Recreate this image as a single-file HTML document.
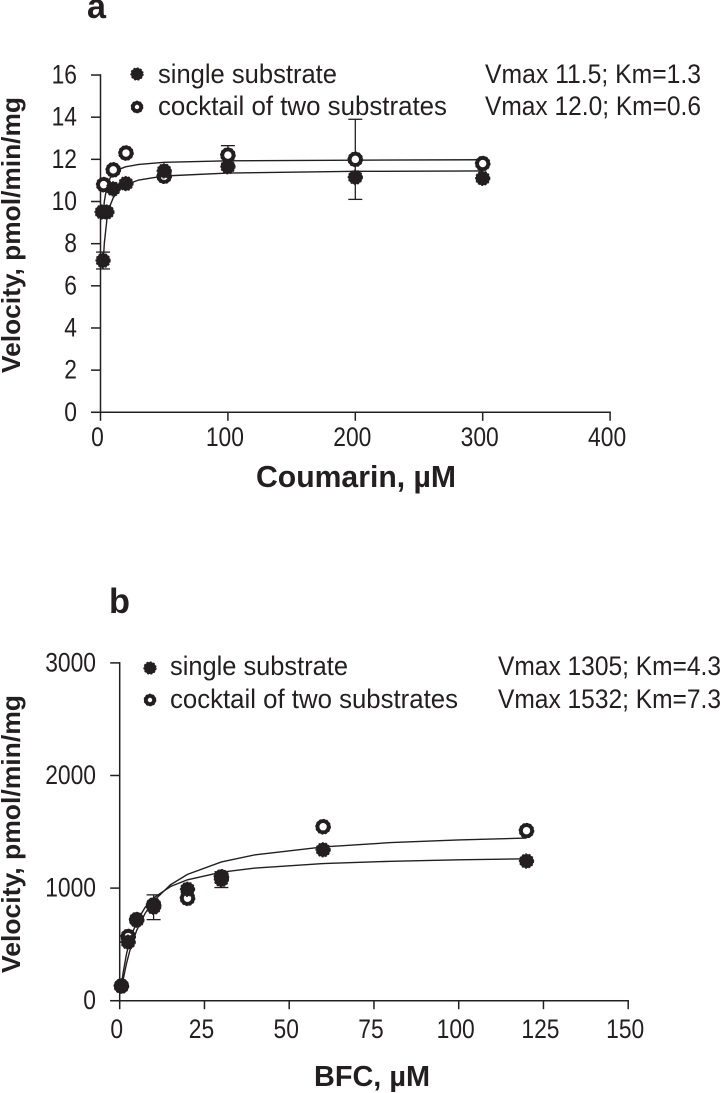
<!DOCTYPE html>
<html lang="en">
<head>
<meta charset="utf-8">
<title>Velocity charts</title>
<style>
html,body{margin:0;padding:0;background:#fff;}
svg{display:block;}
text{font-family:"Liberation Sans",Arial,sans-serif;fill:#231f20;}
.leg{font-size:26.5px;}
.big{font-weight:bold;}
</style>
</head>
<body>
<svg id="fig" width="721" height="1093" viewBox="0 0 721 1093" xmlns="http://www.w3.org/2000/svg">
  <text class="big" x="87" y="18" font-size="35" textLength="19" lengthAdjust="spacingAndGlyphs">a</text>
  <text class="big" x="109" y="613" font-size="35" textLength="21" lengthAdjust="spacingAndGlyphs">b</text>

  <text class="big" transform="translate(20,373) rotate(-90)" font-size="26" textLength="276" lengthAdjust="spacingAndGlyphs">Velocity, pmol/min/mg</text>
  <text class="big" x="256" y="487" font-size="31" textLength="200" lengthAdjust="spacingAndGlyphs">Coumarin, µM</text>
  <text class="big" transform="translate(20,973) rotate(-90)" font-size="26" textLength="278" lengthAdjust="spacingAndGlyphs">Velocity, pmol/min/mg</text>
  <text class="big" x="314" y="1086" font-size="29" textLength="116" lengthAdjust="spacingAndGlyphs">BFC, µM</text>

  <text class="leg" x="158" y="83" textLength="179" lengthAdjust="spacingAndGlyphs">single substrate</text>
  <text class="leg" x="158" y="115" textLength="289" lengthAdjust="spacingAndGlyphs">cocktail of two substrates</text>
  <text class="leg" x="485" y="83" textLength="216" lengthAdjust="spacingAndGlyphs">Vmax 11.5; Km=1.3</text>
  <text class="leg" x="485" y="115" textLength="216" lengthAdjust="spacingAndGlyphs">Vmax 12.0; Km=0.6</text>

  <text class="leg" x="170" y="675" textLength="178" lengthAdjust="spacingAndGlyphs">single substrate</text>
  <text class="leg" x="170" y="708" textLength="288" lengthAdjust="spacingAndGlyphs">cocktail of two substrates</text>
  <text class="leg" x="498" y="675" textLength="223" lengthAdjust="spacingAndGlyphs">Vmax 1305; Km=4.3</text>
  <text class="leg" x="498" y="708" textLength="223" lengthAdjust="spacingAndGlyphs">Vmax 1532; Km=7.3</text>
</svg>
<script>
// Panel a data (Coumarin)
var aXTicks = [0, 100, 200, 300, 400];
var aYTicks = [0, 2, 4, 6, 8, 10, 12, 14, 16];
var aSingleConc = [2, 1.25, 5, 10, 20, 50, 100, 200, 300];
var aSingleVel = [7.2, 9.5, 9.5, 10.6, 10.85, 11.45, 11.65, 11.15, 11.1];
var aSingleErr = [0.4, 0, 0, 0, 0, 0, 0, 0, 0];
var aCocktailConc = [2.5, 10, 20, 50, 100, 200, 300];
var aCocktailVel = [10.8, 11.5, 12.3, 11.2, 12.2, 12.0, 11.8];
var aCocktailErr = [0, 0, 0, 0, 0.45, 1.9, 0];
var aCurveConc = [2, 3, 5, 7.5, 10, 15, 20, 30, 50, 100, 200, 300];
var aCurveSingle = [6.97, 8.02, 9.13, 9.8, 10.18, 10.58, 10.8, 11.02, 11.21, 11.35, 11.43, 11.45];
var aCurveCocktail = [9.23, 10, 10.71, 11.11, 11.32, 11.54, 11.65, 11.76, 11.86, 11.93, 11.96, 11.98];

// Panel b data (BFC)
var bXTicks = [0, 25, 50, 75, 100, 125, 150];
var bYTicks = [0, 1000, 2000, 3000];
var bSingleConc = [0.5, 2.5, 5, 10, 20, 30, 60, 120];
var bSingleVel = [130, 520, 715, 830, 990, 1075, 1340, 1240];
var bSingleErr = [0, 0, 0, 110, 0, 70, 0, 0];
var bCocktailConc = [0.5, 2.5, 5, 10, 20, 30, 60, 120];
var bCocktailVel = [130, 570, 720, 850, 910, 1100, 1545, 1510];
var bCocktailErr = [0, 0, 0, 0, 0, 0, 0, 0];
var bCurveConc = [0.5, 1, 2, 3, 5, 7.5, 10, 15, 20, 30, 40, 60, 80, 100, 120];
var bCurveSingle = [136, 246, 414, 537, 702, 829, 913, 1014, 1074, 1141, 1178, 1218, 1238, 1251, 1260];
var bCurveCocktail = [98, 184, 329, 446, 624, 776, 886, 1030, 1122, 1232, 1296, 1366, 1404, 1428, 1444];

var NS = 'http://www.w3.org/2000/svg';
var INK = '#231f20';
var fig = document.getElementById('fig');

function node(tag, attrs, parent) {
  var el = document.createElementNS(NS, tag);
  for (var k in attrs) el.setAttribute(k, attrs[k]);
  parent.appendChild(el);
  return el;
}

function seg(parent, x1, y1, x2, y2, w) {
  return node('line', {x1: x1, y1: y1, x2: x2, y2: y2, stroke: INK, 'stroke-width': w}, parent);
}

function drawFilled(parent, cx, cy, r) {
  node('circle', {cx: cx, cy: cy, r: r, fill: INK}, parent);
  node('circle', {cx: cx, cy: cy, r: r + 0.2, fill: 'none', stroke: INK, 'stroke-width': 0.9, 'stroke-dasharray': '2 1.6'}, parent);
}

function drawOpen(parent, cx, cy, r) {
  node('circle', {cx: cx, cy: cy, r: r - 1.4, fill: '#fff', stroke: INK, 'stroke-width': 3.8}, parent);
  node('circle', {cx: cx, cy: cy, r: r + 0.4, fill: 'none', stroke: INK, 'stroke-width': 0.9, 'stroke-dasharray': '2 1.8'}, parent);
}

function drawAxes(prefix, g, sx, sy, xTicks, yTicks, xBase, yRight, xLabelDx) {
  var x0 = sx(xTicks[0]), xEnd = sx(xTicks[xTicks.length - 1]);
  var y0 = sy(yTicks[0]), yEnd = sy(yTicks[yTicks.length - 1]);
  var xAxis = seg(g, x0 - 9.5, y0, xEnd + 0.75, y0, 1.5);
  
  
  var yAxis = seg(g, x0, yEnd - 0.75, x0, y0, 1.5);
  
  
  xTicks.forEach(function (t) {
    var tick = seg(g, sx(t), y0, sx(t), y0 + 8.5, 1.5);
    
    
    var s = String(t);
    var lab = node('text', {x: sx(t) + xLabelDx, y: xBase, 'font-size': 26.5, 'text-anchor': 'middle', textLength: s.length * 12.7, lengthAdjust: 'spacingAndGlyphs'}, g);
    lab.textContent = s;
    
    
  });
  yTicks.forEach(function (t) {
    var tick = seg(g, x0 - 9.5, sy(t), x0, sy(t), 1.5);
    
    
    var s = String(t);
    var lab = node('text', {x: yRight, y: sy(t) + 8.5, 'font-size': 26.5, 'text-anchor': 'end', textLength: s.length * 12.7, lengthAdjust: 'spacingAndGlyphs'}, g);
    lab.textContent = s;
    
    
  });
}

function drawCurve(name, g, sx, sy, xs, ys) {
  var pts = xs.map(function (x, i) { return sx(x).toFixed(2) + ',' + sy(ys[i]).toFixed(2); }).join(' ');
  var line = node('polyline', {points: pts, fill: 'none', stroke: INK, 'stroke-width': 1.4}, g);
  
  
}

function drawErrors(name, g, sx, sy, xs, ys, es) {
  xs.forEach(function (x, i) {
    if (!es[i]) return;
    var e = node('g', {}, g);
    
    
    var px = sx(x), hi = sy(ys[i] + es[i]), lo = sy(ys[i] - es[i]);
    seg(e, px, hi, px, lo, 1.3);
    seg(e, px - 7, hi, px + 7, hi, 1.3);
    seg(e, px - 7, lo, px + 7, lo, 1.3);
  });
}

function drawPoints(name, g, sx, sy, xs, ys, drawer) {
  xs.forEach(function (x, i) {
    var p = node('g', {}, g);
    
    
    drawer(p, sx(x), sy(ys[i]), 7);
  });
}

function aX(v) { return 100.5 + v * 1.274; }
function aY(v) { return 412.3 - v * 21.08; }
function bX(v) { return 119.7 + v * 3.39; }
function bY(v) { return 1000.7 - v * 0.1126; }

var gA = node('g', {}, fig);


drawAxes('a', gA, aX, aY, aXTicks, aYTicks, 446, 77, -3);
drawCurve('a-curve-single', gA, aX, aY, aCurveConc, aCurveSingle);
drawCurve('a-curve-cocktail', gA, aX, aY, aCurveConc, aCurveCocktail);
drawErrors('a-error-bar-single', gA, aX, aY, aSingleConc, aSingleVel, aSingleErr);
drawErrors('a-error-bar-cocktail', gA, aX, aY, aCocktailConc, aCocktailVel, aCocktailErr);
drawPoints('a-point-cocktail', gA, aX, aY, aCocktailConc, aCocktailVel, drawOpen);
drawPoints('a-point-single', gA, aX, aY, aSingleConc, aSingleVel, drawFilled);

var gB = node('g', {}, fig);


drawAxes('b', gB, bX, bY, bXTicks, bYTicks, 1038, 96, -3);
drawCurve('b-curve-single', gB, bX, bY, bCurveConc, bCurveSingle);
drawCurve('b-curve-cocktail', gB, bX, bY, bCurveConc, bCurveCocktail);
drawErrors('b-error-bar-single', gB, bX, bY, bSingleConc, bSingleVel, bSingleErr);
drawErrors('b-error-bar-cocktail', gB, bX, bY, bCocktailConc, bCocktailVel, bCocktailErr);
drawPoints('b-point-cocktail', gB, bX, bY, bCocktailConc, bCocktailVel, drawOpen);
drawPoints('b-point-single', gB, bX, bY, bSingleConc, bSingleVel, drawFilled);

var legA1 = node('g', {}, fig);


drawFilled(legA1, 137, 74, 6);
var legA2 = node('g', {}, fig);


drawOpen(legA2, 137, 107, 5.5);
var legB1 = node('g', {}, fig);


drawFilled(legB1, 150, 668, 6);
var legB2 = node('g', {}, fig);


drawOpen(legB2, 150, 700, 5.5);
</script>
</body>
</html>
